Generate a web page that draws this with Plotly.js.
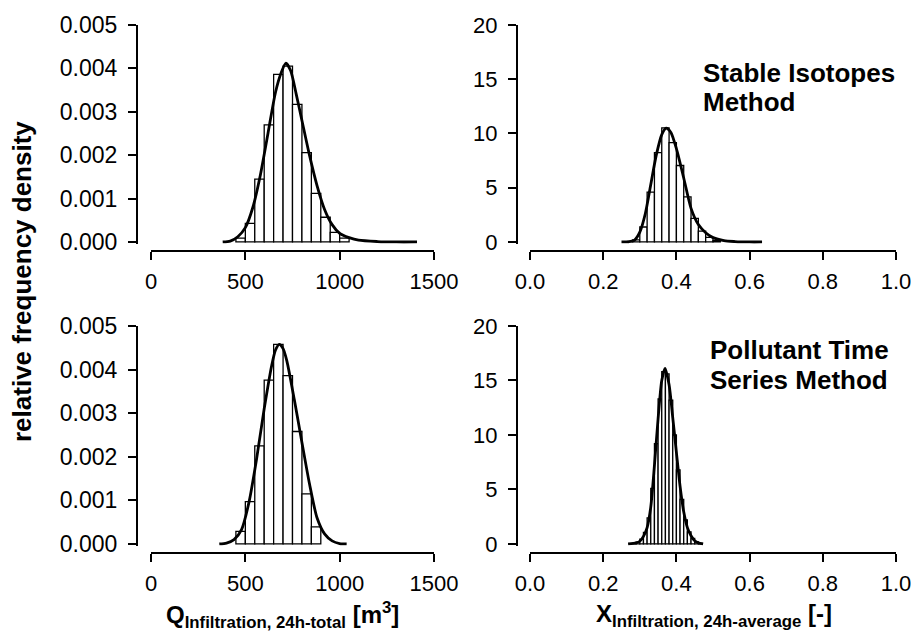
<!DOCTYPE html>
<html><head><meta charset="utf-8">
<script src="https://cdn.plot.ly/plotly-3.0.1.min.js"></script>
<style>html,body{margin:0;padding:0;background:#fff}#chart{width:915px;height:637px}</style>
</head><body><div id="chart"></div>
<script>
// ---- Stable Isotopes Method: Q (m3) ----
const isoQBinCenters = [475,525,575,625,675,725,775,825,875,925,975,1025];
const isoQBinDensity = [0.00009,0.00043,0.00145,0.0027,0.00386,0.00405,0.00317,0.00206,0.00112,0.00057,0.00022,0.00009];
const isoQBinWidth = 50;
const isoQCurveX = [380,420,460,500,540,580,620,660,690,715,740,770,800,840,880,920,960,1000,1050,1100,1200,1300,1410];
const isoQCurveY = [0,0.00002,0.00012,0.00033,0.0008,0.00155,0.0025,0.00345,0.0039,0.00412,0.00395,0.0034,0.0028,0.002,0.0013,0.00075,0.0004,0.0002,0.0001,0.00004,0.00001,0,0];

// ---- Stable Isotopes Method: X (-) ----
const isoXBinCenters = [0.29,0.31,0.33,0.35,0.37,0.39,0.41,0.43,0.45,0.47,0.49,0.51];
const isoXBinDensity = [0.2,1.38,4.6,8.23,10.52,9.15,7.05,4.15,2.18,1.0,0.42,0.12];
const isoXBinWidth = 0.02;
const isoXCurveX = [0.25,0.27,0.285,0.30,0.315,0.33,0.345,0.36,0.372,0.385,0.40,0.42,0.44,0.46,0.48,0.50,0.53,0.56,0.60,0.634];
const isoXCurveY = [0,0.02,0.15,0.9,2.6,5.3,8.0,9.9,10.5,10.1,8.6,5.9,3.1,1.6,0.85,0.4,0.12,0.04,0,0];

// ---- Pollutant Time Series Method: Q (m3) ----
const polQBinCenters = [475,525,575,625,675,725,775,825,875];
const polQBinDensity = [0.00029,0.00097,0.00225,0.00376,0.00458,0.00386,0.00258,0.00115,0.00039];
const polQBinWidth = 50;
const polQCurveX = [362,400,440,480,520,560,600,640,660,680,700,720,760,800,840,880,920,960,1000,1037];
const polQCurveY = [0,0.00002,0.0001,0.00033,0.00097,0.00196,0.0031,0.0041,0.00445,0.00458,0.00448,0.0042,0.0033,0.00233,0.00138,0.0006,0.00023,0.00007,0.00001,0];

// ---- Pollutant Time Series Method: X (-) ----
const polXBinCenters = [0.285,0.295,0.305,0.315,0.325,0.335,0.345,0.355,0.365,0.375,0.385,0.395,0.405,0.415,0.425,0.435,0.445,0.455,0.465];
const polXBinDensity = [0.05,0.17,0.45,1.05,2.4,5.1,9.2,13.3,15.8,15.6,13.2,10.0,6.8,4.1,2.2,1.1,0.5,0.2,0.05];
const polXBinWidth = 0.01;
const polXCurveX = [0.268,0.29,0.30,0.31,0.32,0.33,0.34,0.35,0.36,0.369,0.38,0.39,0.40,0.41,0.42,0.43,0.44,0.45,0.46,0.473];
const polXCurveY = [0,0.1,0.25,0.7,1.5,3.4,7.2,11.5,15.0,16.1,14.6,11.6,8.4,5.3,2.95,1.5,0.75,0.3,0.1,0];

// ---- tick labels ----
const qTicks = [0,500,1000,1500];
const xTicks = [0,0.2,0.4,0.6,0.8,1.0];
const densQTicks = [0,0.001,0.002,0.003,0.004,0.005];
const densXTicks = [0,5,10,15,20];

const W = 915, H = 637;
const fx = p => p / W, fy = p => 1 - p / H;
const FONT = 'Liberation Sans, Arial, Helvetica, sans-serif';

function bars(x, y, w, xa, ya) {
  return {type:'bar', x:x, y:y, width:x.map(()=>w), xaxis:xa, yaxis:ya,
    marker:{color:'#ffffff', line:{color:'#000000', width:1.3}}, hoverinfo:'skip', showlegend:false};
}
function curve(x, y, xa, ya) {
  return {type:'scatter', mode:'lines', x:x, y:y, xaxis:xa, yaxis:ya,
    line:{color:'#000000', width:2.8, shape:'spline', smoothing:0.7}, hoverinfo:'skip', showlegend:false};
}

const data = [
  bars(isoQBinCenters, isoQBinDensity, isoQBinWidth, 'x', 'y'),
  curve(isoQCurveX, isoQCurveY, 'x', 'y'),
  bars(isoXBinCenters, isoXBinDensity, isoXBinWidth, 'x2', 'y2'),
  curve(isoXCurveX, isoXCurveY, 'x2', 'y2'),
  bars(polQBinCenters, polQBinDensity, polQBinWidth, 'x3', 'y3'),
  curve(polQCurveX, polQCurveY, 'x3', 'y3'),
  bars(polXBinCenters, polXBinDensity, polXBinWidth, 'x4', 'y4'),
  curve(polXCurveX, polXCurveY, 'x4', 'y4')
];

const axCommon = {showline:true, linewidth:2, linecolor:'#000', ticks:'outside', ticklen:8, tickwidth:2,
  tickcolor:'#000', showgrid:false, zeroline:false, fixedrange:true,
  tickfont:{family:FONT, size:22, color:'#000'}, anchor:'free'};

function xax(dom, range, pos, tv, fmt) {
  return Object.assign({}, axCommon, {domain:[fx(dom[0]), fx(dom[1])], range:range, position:fy(pos),
    tickvals:tv, tickformat:fmt, ticklabelstandoff:3});
}
function yax(dom, range, pos, tv, fmt, sz) {
  return Object.assign({}, axCommon, {domain:[fy(dom[1]), fy(dom[0])], range:range, position:fx(pos),
    tickvals:tv, tickformat:fmt, ticklabelstandoff:6, tickfont:{family:FONT, size:sz, color:'#000'}});
}

const annBold = (text, x, y, size, opts) => Object.assign({text:text, x:fx(x), y:fy(y), xref:'paper', yref:'paper',
  showarrow:false, xanchor:'left', yanchor:'middle', font:{family:FONT, size:size, color:'#000', weight:'bold'}}, opts||{});

const layout = {
  width:W, height:H, margin:{l:0, r:0, t:0, b:0}, paper_bgcolor:'#fff', plot_bgcolor:'rgba(0,0,0,0)',
  barmode:'overlay', showlegend:false,
  xaxis:  xax([151,434], [0,1500], 251, qTicks, 'd'),
  yaxis:  yax([25,243.7], [-0.00004,0.005], 137, densQTicks, '.3f', 23),
  xaxis2: xax([530,896], [0,1], 251, xTicks, '.1f'),
  yaxis2: yax([25,243.7], [-0.16,20], 517, densXTicks, 'd', 22),
  xaxis3: xax([151,434], [0,1500], 553, qTicks, 'd'),
  yaxis3: yax([326,545.7], [-0.00004,0.005], 137, densQTicks, '.3f', 23),
  xaxis4: xax([530,896], [0,1], 553, xTicks, '.1f'),
  yaxis4: yax([326,545.7], [-0.16,20], 517, densXTicks, 'd', 22),
  annotations: [
    annBold('Stable Isotopes', 701, 73, 26),
    annBold('Method', 701, 102, 26),
    annBold('Pollutant Time', 708, 350, 26),
    annBold('Series Method', 708, 380, 26),
    annBold('relative frequency density', 22, 282, 26, {textangle:-90, xanchor:'center'}),
    annBold('Q<sub>Infiltration, 24h-total</sub> [m<sup>3</sup>]', 282, 615, 24, {xanchor:'center'}),
    annBold('X<sub>Infiltration, 24h-average</sub> [-]', 714, 615, 24, {xanchor:'center'})
  ]
};

Plotly.newPlot('chart', data, layout, {staticPlot:true, displayModeBar:false});
</script></body></html>
